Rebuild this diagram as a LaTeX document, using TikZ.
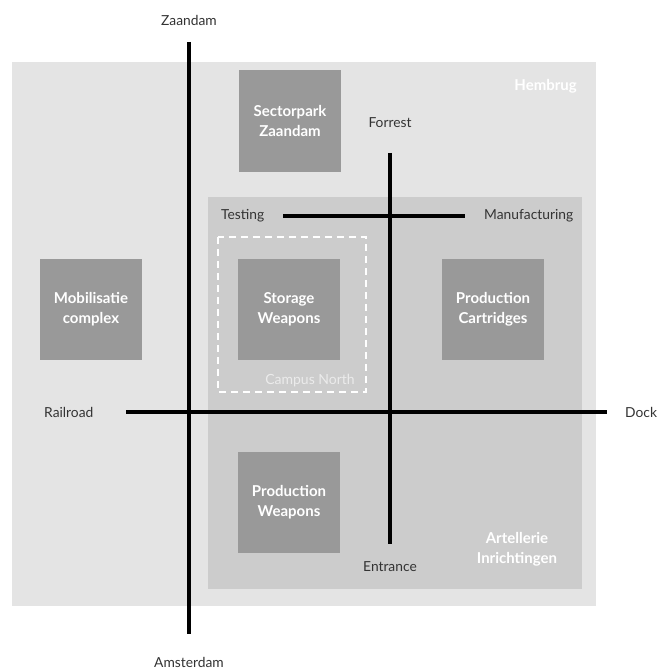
\documentclass[tikz,border=0pt]{standalone}
\usepackage{fontspec}
\setmainfont{Lato}
\begin{document}
\begin{tikzpicture}[x=1pt,y=-1pt,
  block/.style={fill=blockgray,draw=none,minimum width=102pt,minimum height=101pt,inner sep=0pt,
    text=white,font=\fontsize{15}{20}\selectfont\bfseries,align=center},
  lbl/.style={text=labelgray,font=\fontsize{13.8}{16}\selectfont,inner sep=0pt},
  arealbl/.style={text=white,font=\fontsize{15}{20}\selectfont\bfseries,inner sep=0pt,align=center},
  road/.style={line width=4.5pt,draw=black},
  campus/.style={draw=white,line width=1.3pt,dash pattern=on 7pt off 5pt}
]
\definecolor{outergray}{HTML}{E4E4E4}
\definecolor{innergray}{HTML}{CCCCCC}
\definecolor{blockgray}{HTML}{999999}
\definecolor{labelgray}{HTML}{333333}
\useasboundingbox[fill=white] (0,0) rectangle (657,671);
% areas
\fill[outergray] (12,62) rectangle (596,606);
\fill[innergray] (208,197) rectangle (582,589);
\draw[campus] (218,237) rectangle (366,392);
% blocks
\node[block] (sector) at (290,121) {Sectorpark\\Zaandam};
\node[block] (mobil) at (91,309.5) {Mobilisatie\\complex};
\node[block] (storage) at (289,309.5) {Storage\\Weapons};
\node[block] (cart) at (493,309.5) {Production\\Cartridges};
\node[block] (weap) at (289,502.5) {Production\\Weapons};
% area labels
\node[arealbl,anchor=east] (hembrug) at (577,86) {Hembrug};
\node[arealbl] (artel) at (517,549) {Artellerie\\Inrichtingen};
\node[text=white!92!black,font=\fontsize{14}{16}\selectfont,inner sep=0pt] (campusn) at (310,381) {Campus North};
% road labels
\node[lbl] (zaandam) at (189,20) {Zaandam};
\node[lbl] (amsterdam) at (189,662) {Amsterdam};
\node[lbl] (forrest) at (390,123) {Forrest};
\node[lbl] (entrance) at (390,567) {Entrance};
\node[lbl,anchor=west] (testing) at (221,216) {Testing};
\node[lbl,anchor=west] (manuf) at (484,216) {Manufacturing};
\node[lbl,anchor=west] (railroad) at (44,412) {Railroad};
\node[lbl,anchor=west] (dock) at (625,412) {Dock};
% road ends
\coordinate (zN) at (189,42);
\coordinate (zS) at (189,634);
\coordinate (fN) at (390,153);
\coordinate (fS) at (390,544);
\coordinate (rW) at (126,412);
\coordinate (rE) at (607,412);
\coordinate (tW) at (283,216);
\coordinate (tE) at (465,216);
\draw[road] (zN) -- (zS);
\draw[road] (fN) -- (fS);
\draw[road] (rW) -- (rE);
\draw[road] (tW) -- (tE);
\end{tikzpicture}
\end{document}
